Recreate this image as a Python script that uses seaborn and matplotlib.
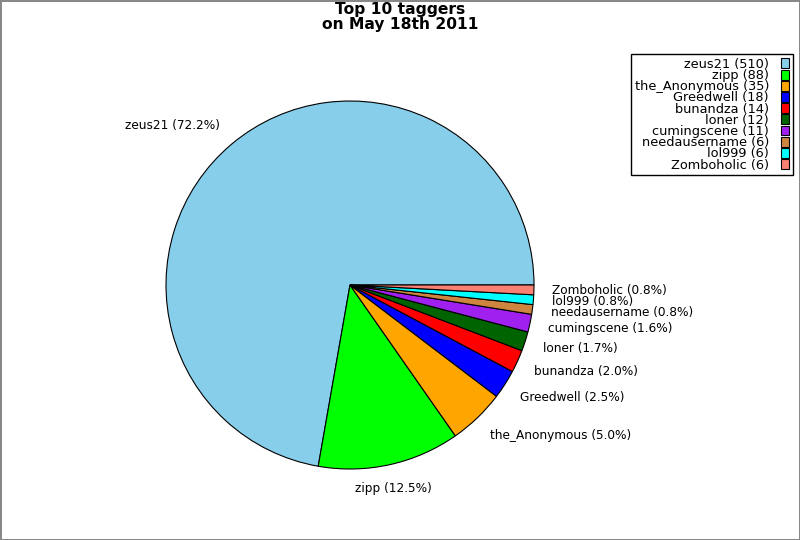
"""
Pie chart of the top 10 taggers on May 18th 2011
"""
import numpy as np
import matplotlib
matplotlib.use("Agg")
import matplotlib.pyplot as plt
import matplotlib.transforms as mtransforms
import seaborn as sns

taggers = ['zeus21', 'zipp', 'the_Anonymous', 'Greedwell', 'bunandza',
           'loner', 'cumingscene', 'needausername', 'lol999', 'Zomboholic']
tag_counts = [510, 88, 35, 18, 14, 12, 11, 6, 6, 6]
slice_colors = ['#87CEEB', '#00FF00', '#FFA500', '#0000FF', '#FF0000',
                '#006400', '#A020F0', '#CD853F', '#00FFFF', '#FA8072']


def plot_top_taggers():
    sns.set_style("white")
    plt.rcParams['font.family'] = ['DejaVu Sans']
    plt.rcParams['text.color'] = 'black'

    total = sum(tag_counts)
    pie_labels = [f"{n} ({c / total * 100:.1f}%)" for n, c in zip(taggers, tag_counts)]
    legend_labels = [f"{n} ({c})" for n, c in zip(taggers, tag_counts)]

    fig = plt.figure(figsize=(8, 5.4), dpi=100, edgecolor='#888888', linewidth=2)
    ax = fig.add_axes([166 / 800, 71 / 540, 368 / 800, 368 / 540])

    wedges, texts = ax.pie(tag_counts, labels=pie_labels,
                           colors=sns.color_palette(slice_colors),
                           startangle=0, counterclock=True, labeldistance=1.1,
                           wedgeprops={'edgecolor': 'black', 'linewidth': 0.8},
                           textprops={'fontsize': 8.7, 'color': 'black'})
    ax.set_xlim(-1, 1)
    ax.set_ylim(-1, 1)
    ax.set_aspect('equal')

    # nudge labels like the original renderer did
    for t in texts:
        x, y = t.get_position()
        ang = np.arctan2(y, x)
        c, s = np.cos(ang), np.sin(ang)
        if abs(c) < 0.3:
            t.set_horizontalalignment('center')
        t.set_verticalalignment('center')
        t.set_transform(t.get_transform() +
                        mtransforms.ScaledTranslation(0, s * 0.062, fig.dpi_scale_trans))

    fig.text(0.5, 0.996, "Top 10 taggers\non May 18th 2011", ha='center', va='top',
             fontsize=11.2, fontweight='bold', linespacing=0.95, color='black')

    leg = fig.legend(wedges, legend_labels, loc='upper right',
                     bbox_to_anchor=(793 / 800, 1 - 54 / 540), borderaxespad=0,
                     markerfirst=False, fancybox=False, shadow=False, framealpha=1,
                     edgecolor='black', fontsize=9.3, labelspacing=-0.14,
                     handlelength=0.65, handleheight=0.8, handletextpad=0.9,
                     borderpad=0.3)
    leg.get_frame().set_linewidth(1.0)
    for txt in leg.get_texts():
        txt.set_color('black')

    fig.savefig("out.png", dpi=100, edgecolor=fig.get_edgecolor())


if __name__ == "__main__":
    plot_top_taggers()
